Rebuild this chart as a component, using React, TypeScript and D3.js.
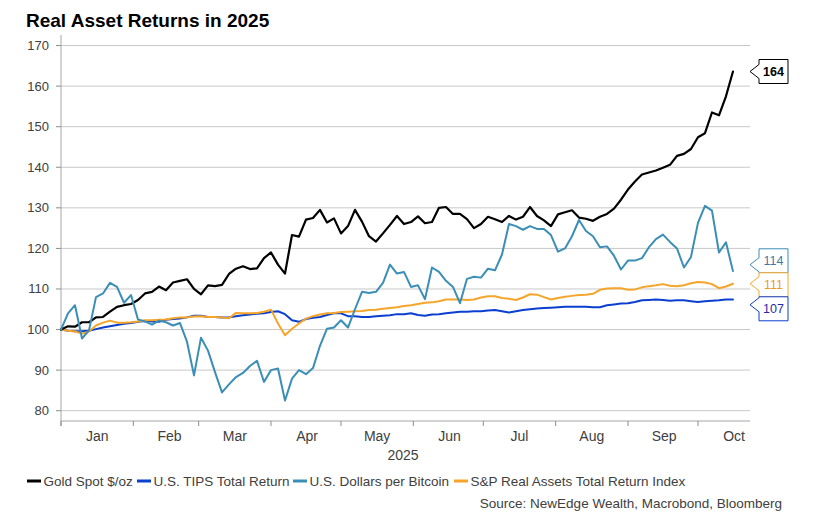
import React from 'react';
import * as d3 from 'd3';

// ---------- data ----------
const START = Date.UTC(2025, 0, 1);
const DAY_MS = 86400000;
// observation dates: every 3rd day from Jan 1 to Oct 16, 2025
const dates: Date[] = d3.range(0, 289, 3).map((d) => new Date(START + d * DAY_MS));

const goldSpot = [
  100, 100.8, 100.7, 101.8, 101.8, 103.0, 103.1, 104.4, 105.6, 106.0,
  106.3, 107.3, 108.9, 109.3, 110.6, 109.7, 111.6, 112.0, 112.4, 110.0,
  108.7, 110.9, 110.7, 111.0, 113.7, 115.0, 115.6, 114.9, 115.1, 117.6,
  119.0, 116.0, 113.8, 123.3, 122.9, 127.1, 127.5, 129.5, 126.4, 127.4,
  123.7, 125.5, 129.5, 126.6, 123.0, 121.7, 123.7, 125.8, 128.0, 126.0,
  126.5, 127.9, 126.2, 126.5, 130.0, 130.2, 128.5, 128.5, 127.2, 125.0,
  126.0, 127.8, 127.2, 126.5, 128.0, 127.1, 127.8, 130.2, 128.0, 126.9,
  125.5, 128.4, 128.9, 129.4, 127.6, 127.3, 126.8, 127.8, 128.5, 129.8,
  132.0, 134.5, 136.5, 138.2, 138.7, 139.2, 139.9, 140.6, 142.8, 143.3,
  144.5, 147.4, 148.4, 153.5, 152.8, 157.5, 163.6,
];

const tipsTotalReturn = [
  100, 99.7, 99.6, 99.6, 99.7, 100.1, 100.5, 100.8, 101.1, 101.4,
  101.6, 101.9, 102.1, 102.0, 101.9, 102.4, 102.6, 102.7, 103.0, 103.4,
  103.4, 103.1, 103.1, 103.0, 103.0, 103.3, 103.5, 103.7, 103.9, 104.0,
  104.3, 104.5, 103.8, 102.3, 101.9, 102.6, 102.9, 103.1, 103.6, 104.0,
  104.0, 103.3, 103.3, 103.1, 103.1, 103.3, 103.4, 103.5, 103.8, 103.8,
  104.0, 103.6, 103.4, 103.7, 103.8, 104.0, 104.2, 104.4, 104.4, 104.5,
  104.5, 104.7, 104.8, 104.5, 104.2, 104.5, 104.8, 105.0, 105.2, 105.3,
  105.4, 105.5, 105.6, 105.6, 105.6, 105.6, 105.5, 105.5, 106.0, 106.2,
  106.4, 106.5, 106.8, 107.2, 107.3, 107.4, 107.3, 107.1, 107.2, 107.2,
  107.0, 106.8, 107.0, 107.1, 107.2, 107.4, 107.4,
];

const bitcoinUsd = [
  100, 104.0, 106.0, 97.8, 99.8, 108.0, 108.9, 111.5, 110.5, 106.6,
  108.5, 102.5, 102.0, 101.2, 102.2, 101.8, 101.0, 101.6, 97.0, 88.7,
  98.0, 94.8, 89.5, 84.5, 86.5, 88.3, 89.3, 91.0, 92.3, 87.1,
  90.0, 90.4, 82.5, 87.9, 90.0, 89.0, 90.5, 96.0, 100.2, 100.5,
  102.3, 100.5, 105.0, 109.3, 109.0, 109.3, 111.5, 116.0, 113.8, 114.2,
  110.5, 110.9, 107.5, 115.3, 114.2, 112.0, 110.5, 106.5, 112.5, 113.0,
  112.8, 115.0, 114.6, 118.5, 126.0, 125.5, 124.6, 125.5, 124.8, 124.8,
  123.3, 119.2, 120.0, 123.0, 127.0, 124.3, 123.0, 120.3, 120.5, 118.2,
  114.8, 117.0, 117.0, 117.6, 120.3, 122.3, 123.4, 121.6, 120.0, 115.3,
  117.9, 126.3, 130.5, 129.3, 119.0, 121.5, 114.4,
];

const spRealAssets = [
  100, 99.7, 99.5, 99.0, 99.5, 101.0, 101.7, 102.2, 101.7, 101.7,
  101.8, 102.0, 102.3, 102.3, 102.4, 102.5, 102.8, 103.0, 103.0, 103.2,
  103.3, 103.1, 103.1, 103.0, 102.8, 104.1, 104.0, 104.0, 104.1, 104.4,
  104.9, 101.5, 98.6, 100.2, 101.5, 102.7, 103.3, 103.7, 104.0, 104.1,
  104.3, 104.4, 104.5, 104.6, 104.8, 104.9, 105.1, 105.3, 105.5, 105.8,
  106.0, 106.3, 106.6, 106.7, 107.0, 107.4, 107.4, 107.4, 107.3, 107.4,
  107.9, 108.2, 108.2, 107.8, 107.6, 107.3, 107.9, 108.7, 108.6, 108.0,
  107.4, 107.8, 108.1, 108.3, 108.5, 108.6, 108.8, 109.8, 110.1, 110.2,
  110.2, 109.8, 109.9, 110.4, 110.7, 110.9, 111.2, 110.8, 110.7, 110.9,
  111.4, 111.7, 111.6, 111.2, 110.2, 110.6, 111.3,
];

const yTickValues = [80, 90, 100, 110, 120, 130, 140, 150, 160, 170];
const monthNames = ['Jan', 'Feb', 'Mar', 'Apr', 'May', 'Jun', 'Jul', 'Aug', 'Sep', 'Oct'];
const yearLabel = '2025';
const seriesNames = [
  'Gold Spot $/oz',
  'U.S. TIPS Total Return',
  'U.S. Dollars per Bitcoin',
  'S&P Real Assets Total Return Index',
];
const seriesColors = ['#000000', '#0b3fcf', '#3b8eb5', '#f5a52a'];
const labelTextColors = ['#000000', '#2a2aa8', '#3f78a8', '#ee9a20'];
const title = 'Real Asset Returns in 2025';
const sourceText = 'Source: NewEdge Wealth, Macrobond, Bloomberg';

const FONT = '"Liberation Sans", Arial, Helvetica, sans-serif';

export default function App() {
  const W = 815;
  const H = 518;
  const left = 61;
  const right = 750;
  const top = 35;
  const bottom = 421;

  const x = d3
    .scaleUtc()
    .domain([new Date(START), new Date(START + 295.3 * DAY_MS)])
    .range([left, right]);
  const y = d3.scaleLinear().domain([77.46, 172.6]).range([bottom, top]);

  const line = d3
    .line<number>()
    .x((_, i) => x(dates[i]))
    .y((v) => y(v))
    .curve(d3.curveLinear);

  const series = [
    { name: seriesNames[0], values: goldSpot, color: seriesColors[0], text: labelTextColors[0], width: 2.2, bold: true },
    { name: seriesNames[1], values: tipsTotalReturn, color: seriesColors[1], text: labelTextColors[1], width: 2, bold: false },
    { name: seriesNames[2], values: bitcoinUsd, color: seriesColors[2], text: labelTextColors[2], width: 2, bold: false },
    { name: seriesNames[3], values: spRealAssets, color: seriesColors[3], text: labelTextColors[3], width: 2, bold: false },
  ];
  const drawOrder = [1, 3, 0, 2];

  const monthStarts = d3.utcMonth.range(new Date(START), new Date(Date.UTC(2025, 9, 2)));
  const monthMids = monthStarts.map((m) => new Date(m.getTime() + 15.5 * DAY_MS));

  // end labels with collision avoidance
  const boxH = 24;
  type Lab = { idx: number; v: number; ideal: number };
  const labs: Lab[] = series
    .map((s, idx) => {
      const v = s.values[s.values.length - 1];
      return { idx, v, ideal: y(v) };
    })
    .sort((a, b) => a.ideal - b.ideal);
  let clusters = labs.map((l) => ({ items: [l], center: l.ideal }));
  let merged = true;
  while (merged) {
    merged = false;
    for (let i = 0; i < clusters.length - 1; i++) {
      const a = clusters[i];
      const b = clusters[i + 1];
      if (a.center + (a.items.length * boxH) / 2 > b.center - (b.items.length * boxH) / 2) {
        const items = [...a.items, ...b.items];
        const center = d3.mean(items, (d) => d.ideal) as number;
        clusters.splice(i, 2, { items, center });
        merged = true;
        break;
      }
    }
  }
  const placed: { idx: number; v: number; ideal: number; c: number }[] = [];
  clusters.forEach((cl) => {
    const n = cl.items.length;
    cl.items.forEach((it, k) => {
      placed.push({ ...it, c: cl.center - (n * boxH) / 2 + boxH * (k + 0.5) });
    });
  });

  const boxL = 759;
  const boxW = 29;
  const notchW = 9;
  const notchH = 7;

  const legendX = [27, 137, 293, 454];

  return (
    <svg
      width={W}
      height={H}
      viewBox={`0 0 ${W} ${H}`}
      style={{ position: 'absolute', left: 0, top: 0, background: '#fff', fontFamily: FONT }}
    >
      <rect x={0} y={0} width={W} height={H} fill="#fff" />
      <text x={26} y={27} fontSize={19} fontWeight="bold" fill="#000">
        {title}
      </text>

      {/* gridlines */}
      {yTickValues.map((t) => (
        <line key={'g' + t} x1={left} x2={right} y1={y(t)} y2={y(t)} stroke="#c8c8c8" strokeWidth={1} />
      ))}
      {/* y axis */}
      <line x1={left} x2={left} y1={top} y2={bottom + 5} stroke="#a6a6a6" strokeWidth={1} />
      {yTickValues.map((t) => (
        <g key={'yt' + t}>
          <line x1={left - 5} x2={left} y1={y(t)} y2={y(t)} stroke="#8c8c8c" strokeWidth={1} />
          <text x={49} y={y(t) + 4.5} fontSize={13} textAnchor="end" fill="#404040">
            {t}
          </text>
        </g>
      ))}
      {/* x axis */}
      <line x1={left} x2={right} y1={bottom} y2={bottom} stroke="#a6a6a6" strokeWidth={1} />
      {monthStarts.map((m, i) => (
        <line key={'xt' + i} x1={x(m)} x2={x(m)} y1={bottom} y2={bottom + 5} stroke="#8c8c8c" strokeWidth={1} />
      ))}
      {monthMids.map((m, i) => (
        <text key={'xl' + i} x={x(m)} y={441} fontSize={14} textAnchor="middle" fill="#404040">
          {monthNames[i]}
        </text>
      ))}
      <text x={403} y={459.5} fontSize={14} textAnchor="middle" fill="#404040">
        {yearLabel}
      </text>

      {/* lines */}
      {drawOrder.map((i) => {
        const s = series[i];
        return (
          <path
            key={'s' + i}
            d={line(s.values) || ''}
            fill="none"
            stroke={s.color}
            strokeWidth={s.width}
            strokeLinejoin="round"
            strokeLinecap="round"
          />
        );
      })}

      {/* end labels */}
      {placed.map((p) => {
        const s = series[p.idx];
        const t = p.c - boxH / 2;
        const b = p.c + boxH / 2;
        const tip = Math.max(t + notchH, Math.min(b - notchH, Math.max(p.c - 4, Math.min(p.c + 4, p.ideal))));
        const d = `M${boxL},${t} H${boxL + boxW} V${b} H${boxL} V${tip + notchH} L${boxL - notchW},${tip} L${boxL},${tip - notchH} Z`;
        return (
          <g key={'lab' + p.idx}>
            <path d={d} fill="#fff" stroke={s.color} strokeWidth={1} />
            <text
              x={boxL + boxW / 2}
              y={p.c + 4.5}
              fontSize={12.5}
              textAnchor="middle"
              fontWeight={s.bold ? 'bold' : 'normal'}
              fill={s.text}
            >
              {Math.round(p.v)}
            </text>
          </g>
        );
      })}

      {/* legend */}
      {series.map((s, i) => (
        <g key={'lg' + i}>
          <line x1={legendX[i]} x2={legendX[i] + 14} y1={481} y2={481} stroke={s.color} strokeWidth={3} />
          <text x={legendX[i] + 16.5} y={485.5} fontSize={13.5} fill="#404040">
            {s.name}
          </text>
        </g>
      ))}

      <text x={782} y={508} fontSize={13.5} textAnchor="end" fill="#404040">
        {sourceText}
      </text>
    </svg>
  );
}
